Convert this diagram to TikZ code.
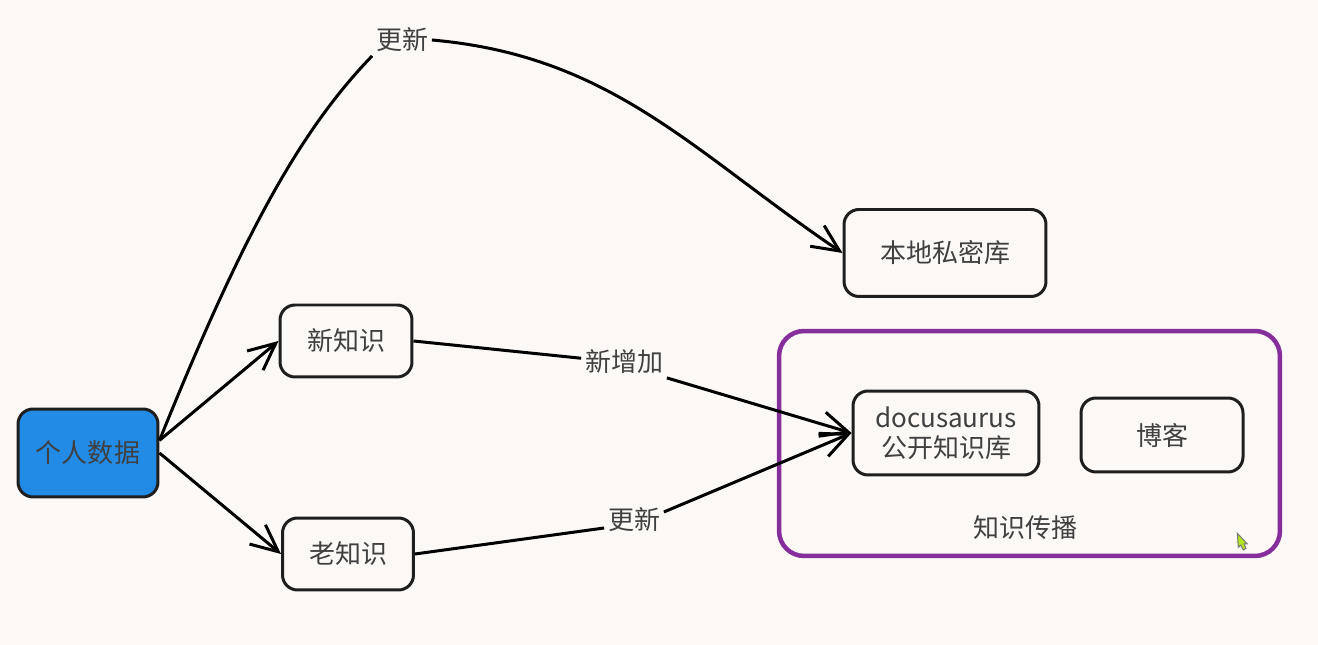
\documentclass[tikz,border=0pt]{standalone}
\usepackage{fontspec}
\setmainfont{Noto Sans CJK SC}
\usetikzlibrary{arrows.meta}
\definecolor{paper}{HTML}{FCF8F6}
\definecolor{dataBlue}{HTML}{228BE6}
\definecolor{spreadPurple}{HTML}{862E9C}
\definecolor{ink}{HTML}{1E1E1E}
\definecolor{cursorGreen}{HTML}{B5E61D}
\tikzset{
	box/.style={draw=ink, line width=0.6mm, rounded corners=0.3cm, align=center, text=ink!85, font=\fontsize{14.8pt}{17pt}\selectfont},
	lbl/.style={text=ink!85, font=\fontsize{14.8pt}{17pt}\selectfont, inner sep=2pt},
	link/.style={line width=0.6mm, black},
	arr/.style={link, -{Straight Barb[length=5.4mm,width=5mm]}}
}

\begin{document}
\begin{tikzpicture}[x=0.02cm, y=0.02cm]
			%%%%% START %%%%%
			
			\useasboundingbox (0, 0) rectangle (1318, 645);
			\fill[paper] (0, 0) rectangle (1318, 645);
			
			\node[box, fill=dataBlue, minimum width=2.8cm, minimum height=1.76cm] (data) at (88, 192) {个人数据};
			\node[box, minimum width=2.64cm, minimum height=1.44cm] (newKnow) at (346, 304) {新知识};
			\node[box, minimum width=2.62cm, minimum height=1.44cm] (oldKnow) at (348, 91) {老知识};
			\node[box, minimum width=4.04cm, minimum height=1.74cm] (local) at (945, 392) {本地私密库};
			
			\node[draw=spreadPurple, line width=0.09cm, rounded corners=0.5cm, minimum width=10.02cm, minimum height=4.5cm] (spread) at (1029.5, 201.5) {};
			\node[box, minimum width=3.72cm, minimum height=1.68cm, inner sep=1pt] (docu) at (946, 212) {docusaurus\\公开知识库};
			\node[box, minimum width=3.24cm, minimum height=1.48cm] (blog) at (1162, 210) {博客};
			\node[lbl] (spreadLbl) at (1025, 117) {知识传播};
			
			\node[lbl] (updTop) at (402, 605) {更新};
			\node[lbl] (add) at (624, 283) {新增加};
			\node[lbl] (updLow) at (634, 125) {更新};
			
			\draw[link] (data.10) to[out=68, in=226, out looseness=1.3, in looseness=0.6] (updTop.south west);
			\draw[arr] (updTop.east) to[out=-5, in=146] (local.west);
			
			\draw[arr] (data.10) -- (newKnow.west);
			\draw[arr] (data.east) -- (oldKnow.west);
			
			\draw[link] (newKnow.east) -- (add.175);
			\draw[arr] (add.south east) -- (docu.west);
			\draw[link] (oldKnow.east) -- (updLow.195);
			\draw[arr] (updLow.15) -- (docu.west);
			
			\filldraw[fill=cursorGreen, draw=ink!60, line width=0.2mm] (1237.3, 111.7) -- (1238.3, 97.7) -- (1240.7, 100) -- (1243.3, 95) -- (1246, 96.7) -- (1244, 101) -- (1247.3, 101) -- cycle;
			
			%%%%% END %%%%%
\end{tikzpicture}
\end{document}
